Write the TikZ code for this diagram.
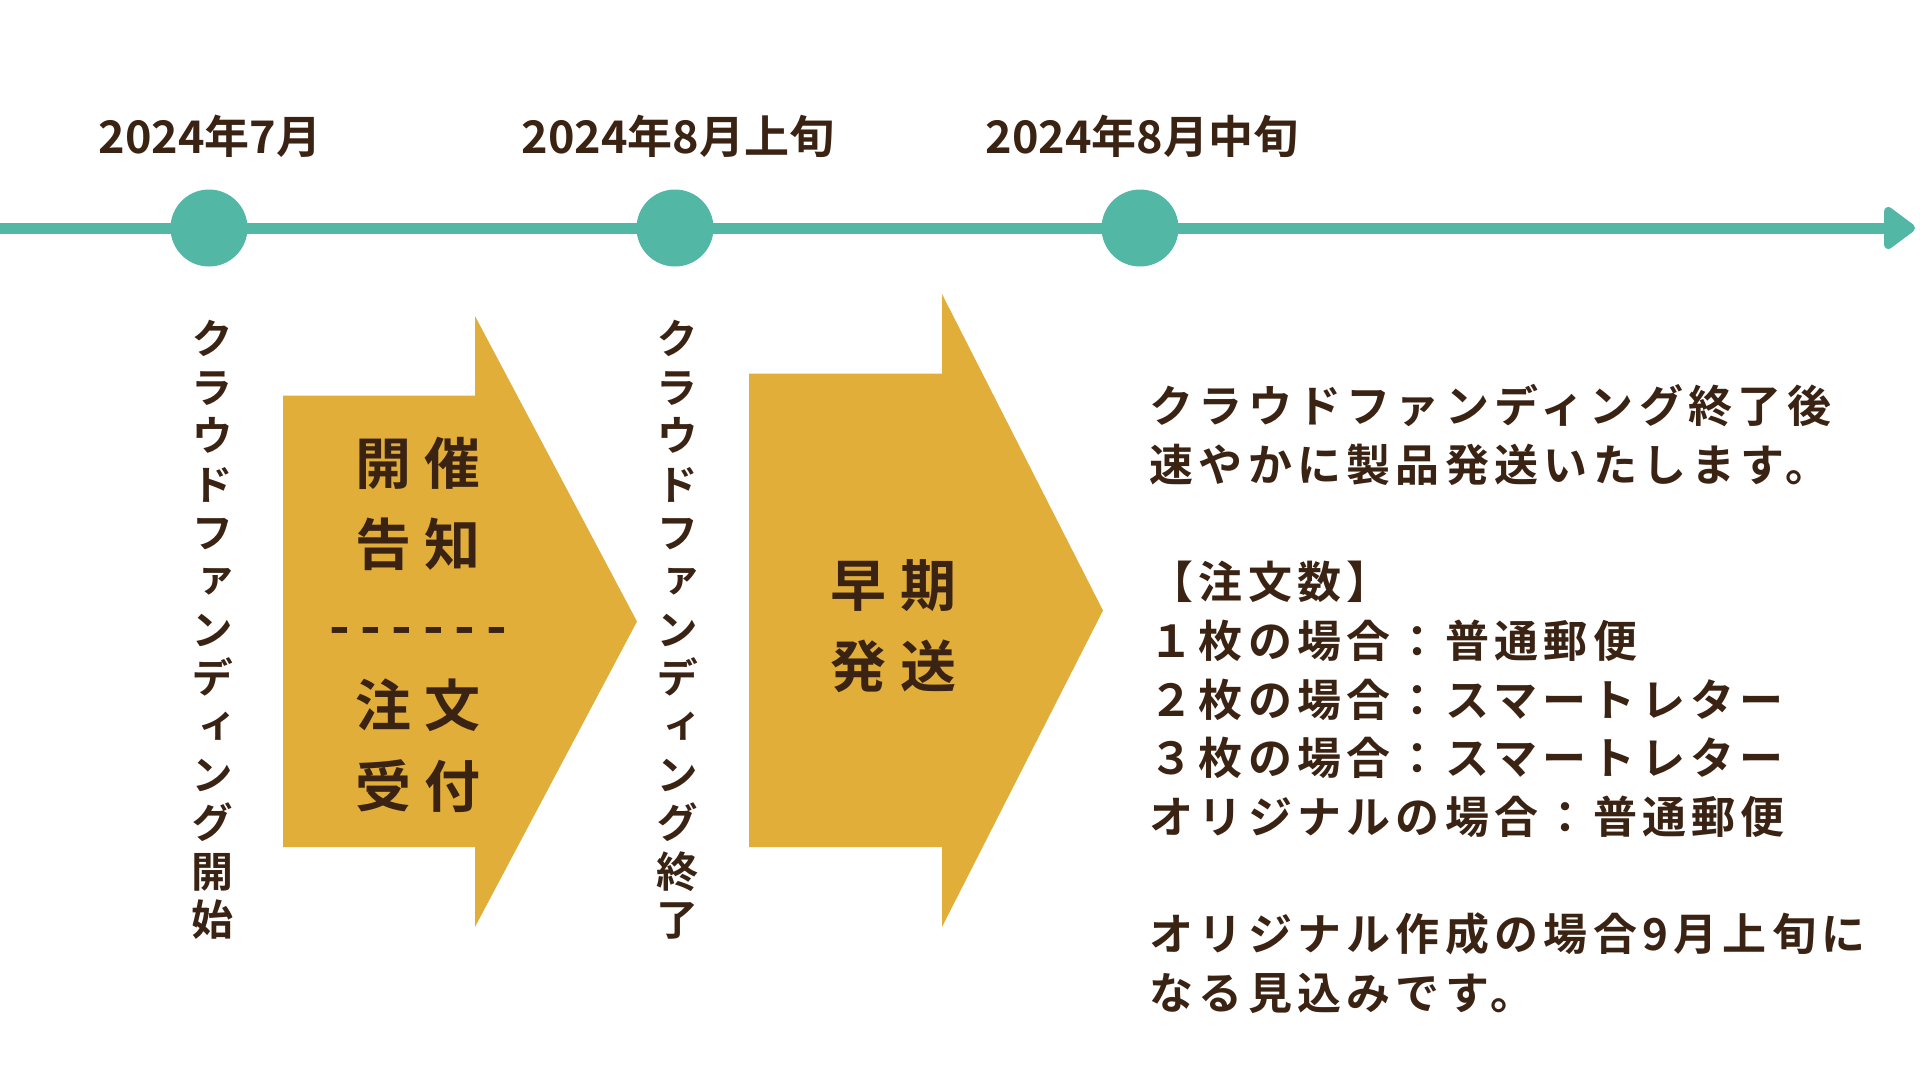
\documentclass[tikz,border=0pt]{standalone}
\usepackage{fontspec}
\usetikzlibrary{arrows.meta}
\newfontfamily\jp{Noto Sans CJK JP}[BoldFont=* Bold]
\newfontfamily\jpv{Noto Sans CJK JP}[BoldFont=* Bold,RawFeature=+vert]
\definecolor{lineteal}{RGB}{82,183,165}
\definecolor{ochre}{RGB}{225,174,58}
\definecolor{darkbrown}{RGB}{59,35,20}
\begin{document}
\begin{tikzpicture}[x=1pt,y=-1pt]
  \useasboundingbox (0,0) rectangle (1920,1080);

  \coordinate (start) at (0,228);
  \coordinate (end) at (1915,228);
  \draw[line width=11pt,lineteal,-{Triangle[round,length=34pt,width=48pt]}] (start) -- (end);

  \begin{scope}[every node/.style={circle,fill=lineteal,minimum size=77pt,inner sep=0pt}]
    \node (jul)  at (209,228)  {};
    \node (augE) at (675,228)  {};
    \node (augM) at (1140,228) {};
  \end{scope}

  \begin{scope}[every node/.style={text=darkbrown,font=\jp\bfseries\fontsize{45}{50}\selectfont}]
    \node (jultext)  at (210,136)  {2024年7月};
    \node (augEtext) at (678,136)  {2024年8月上旬};
    \node (augMtext) at (1142,136) {2024年8月中旬};
  \end{scope}

  \begin{scope}[every node/.style={text=darkbrown,align=center,
      font=\jpv\bfseries\fontsize{42}{48.4}\selectfont}]
    \node (cfstart) at (212,630) {ク\\ラ\\ウ\\ド\\フ\\ァ\\ン\\デ\\ィ\\ン\\グ\\開\\始};
    \node (cfend)   at (677,630) {ク\\ラ\\ウ\\ド\\フ\\ァ\\ン\\デ\\ィ\\ン\\グ\\終\\了};
  \end{scope}

  \fill[ochre] (283,395.5) -- (475,395.5) -- (475,316) -- (637,621.5)
    -- (475,927) -- (475,847) -- (283,847) -- cycle;
  \fill[ochre] (749,373.5) -- (942,373.5) -- (942,294) -- (1103,610.5)
    -- (942,927) -- (942,847) -- (749,847) -- cycle;

  \begin{scope}[every node/.style={text=darkbrown,align=center,
      font=\jp\bfseries\fontsize{56}{80.8}\selectfont\addfontfeature{LetterSpace=25}}]
    \node (notice) at (418,625) {開催\\告知\\{\addfontfeature{LetterSpace=19}------}\\注文\\受付};
    \node (early)  at (893,626) {早期\\発送};
  \end{scope}

  \node[text=darkbrown,align=left,anchor=west,
    font=\jp\bfseries\fontsize{44}{58.7}\selectfont\addfontfeature{LetterSpace=12}]
    (info) at (1146,699) {クラウドファンディング終了後\\
    速やかに製品発送いたします。\\[58.7pt]
    【注文数】\\
    １枚の場合：普通郵便\\
    ２枚の場合：スマートレター\\
    ３枚の場合：スマートレター\\
    オリジナルの場合：普通郵便\\[58.7pt]
    オリジナル作成の場合9月上旬に\\
    なる見込みです。};
\end{tikzpicture}
\end{document}
